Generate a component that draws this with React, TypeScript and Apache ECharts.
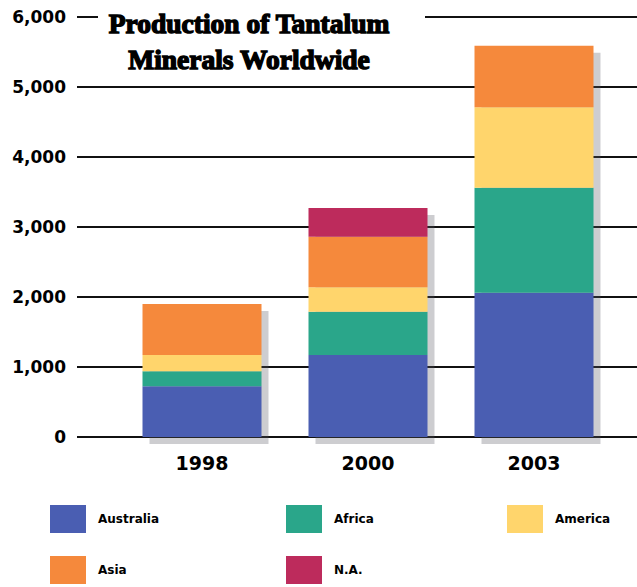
import React, { useEffect, useRef } from "react";
import * as echarts from "echarts";

const years = ["1998", "2000", "2003"];
const australia = [725, 1170, 2060];
const africa = [215, 620, 1500];
const america = [230, 350, 1150];
const asia = [730, 720, 880];
const na = [0, 410, 0];
const yTicks = [0, 1000, 2000, 3000, 4000, 5000, 6000];

const seriesNames = ["Australia", "Africa", "America", "Asia", "N.A."];
const seriesData = [australia, africa, america, asia, na];
const colors = ["#4a5eb2", "#2aa68a", "#ffd56c", "#f5893c", "#bd2b5c"];

const totals = years.map((_, i) => seriesData.reduce((s, arr) => s + arr[i], 0));

export default function App() {
  const ref = useRef<HTMLDivElement>(null);
  useEffect(() => {
    if (!ref.current) return;
    const chart = echarts.init(ref.current, null, { renderer: "svg" });
    const legendPos = [
      { left: 50, top: 505 },
      { left: 286, top: 505 },
      { left: 507, top: 505 },
      { left: 50, top: 556 },
      { left: 286, top: 556 },
    ];
    const yMax = yTicks[yTicks.length - 1];
    chart.setOption({
      animation: false,
      backgroundColor: "#ffffff",
      title: {
        text: "Production of Tantalum\nMinerals Worldwide",
        left: 229,
        top: 3,
        textAlign: "center",
        padding: [2, 20, 2, 20],
        textStyle: {
          fontFamily: "Liberation Serif",
          fontWeight: "bold",
          fontSize: 27.5,
          lineHeight: 36,
          color: "#000",
          textBorderColor: "#000",
          textBorderWidth: 1.4,
        },
        z: 10,
      },
      graphic: [
        {
          type: "rect",
          shape: { x: 98, y: 6, width: 327, height: 24 },
          style: { fill: "#ffffff" },
          z: 5,
          silent: true,
        },
      ],
      legend: seriesNames.map((n, i) => ({
        data: [n],
        left: legendPos[i].left,
        top: legendPos[i].top,
        padding: 0,
        itemWidth: 36,
        itemHeight: 28,
        icon: "rect",
        selectedMode: false,
        textStyle: {
          fontFamily: "DejaVu Sans",
          fontWeight: "bold",
          fontSize: 12,
          color: "#000",
          padding: [0, 0, 0, 7],
        },
      })),
      grid: [
        { left: 77, right: 0, top: 17, bottom: 150 },
        { left: 119, right: 20, top: 17, bottom: 150 },
        { left: 126, right: 13, top: 24, bottom: 143 },
      ],
      xAxis: [
        { type: "category", gridIndex: 0, data: years, show: false },
        {
          type: "category",
          gridIndex: 1,
          data: years,
          axisLine: { show: false },
          axisTick: { show: false },
          axisLabel: {
            margin: 16,
            fontFamily: "DejaVu Sans",
            fontWeight: "bold",
            fontSize: 19,
            color: "#000",
          },
        },
        { type: "category", gridIndex: 2, data: years, show: false },
      ],
      yAxis: [
        {
          type: "value",
          gridIndex: 0,
          min: 0,
          max: yMax,
          interval: 1000,
          axisLine: { show: false },
          axisTick: { show: false },
          axisLabel: {
            margin: 11,
            fontFamily: "DejaVu Sans",
            fontWeight: "bold",
            fontSize: 17,
            color: "#000",
            formatter: (v: number) => v.toLocaleString("en-US"),
          },
          splitLine: { lineStyle: { color: "#111", width: 2 } },
        },
        { type: "value", gridIndex: 1, min: 0, max: yMax, show: false, splitLine: { show: false } },
        { type: "value", gridIndex: 2, min: 0, max: yMax, show: false, splitLine: { show: false } },
      ],
      series: [
        {
          type: "bar",
          name: "shadow",
          xAxisIndex: 2,
          yAxisIndex: 2,
          data: totals,
          barWidth: 119,
          z: 1,
          itemStyle: { color: "rgba(90,90,100,0.3)" },
          silent: true,
        },
        ...seriesNames.map((n, i) => ({
          type: "bar",
          name: n,
          xAxisIndex: 1,
          yAxisIndex: 1,
          stack: "total",
          barWidth: 119,
          data: seriesData[i],
          itemStyle: { color: colors[i] },
          z: 3,
        })),
      ],
    });
    return () => chart.dispose();
  }, []);
  return (
    <div
      ref={ref}
      style={{ position: "fixed", left: 0, top: 0, width: 637, height: 587 }}
    />
  );
}
